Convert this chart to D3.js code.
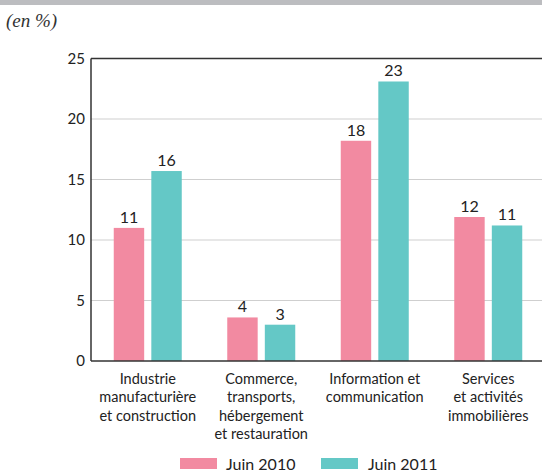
<!DOCTYPE html>
<html><head><meta charset="utf-8">
<script src="https://cdn.jsdelivr.net/npm/d3@7"></script>
<style>body{margin:0;background:#fff}svg{display:block}</style>
</head><body>
<script>
const categories = [["Industrie","manufacturière","et construction"],["Commerce,","transports,","hébergement","et restauration"],["Information et","communication"],["Services","et activités","immobilières"]];
const seriesNames = ["Juin 2010","Juin 2011"];
const values2010 = [11.0, 3.6, 18.2, 11.9];
const values2011 = [15.7, 3.0, 23.1, 11.2];
const labels2010 = ["11","4","18","12"];
const labels2011 = ["16","3","23","11"];
const yTicks = [0,5,10,15,20,25];
const colors = ["#f28aa1","#64c8c6"];

(function(){
const W=542,H=472;
const svg=d3.select("body").append("svg").attr("width",W).attr("height",H);
const font="Lato, 'Open Sans', sans-serif";
svg.append("rect").attr("x",0).attr("y",0).attr("width",W).attr("height",5).attr("fill","#bcbdc0");
svg.append("text").attr("x",6).attr("y",27).attr("font-family","'Liberation Serif', serif").attr("font-style","italic").attr("font-size",19).attr("fill","#333").text("(en %)");

const pL=91,pR=545,pT=58.5,pB=361;
const x=d3.scaleBand().domain(d3.range(categories.length)).range([pL,pR]).paddingInner(0).paddingOuter(0);
const y=d3.scaleLinear().domain([0,25]).range([pB,pT]);
const xs=d3.scaleBand().domain([0,1]).range([0,68]).paddingInner(0.19);
const off=(x.bandwidth()-68)/2;

svg.append("g").selectAll("line").data(yTicks.filter(t=>t>0&&t<25)).join("line")
 .attr("x1",pL).attr("x2",W).attr("y1",d=>y(d)).attr("y2",d=>y(d)).attr("stroke","#cfcfcf").attr("stroke-width",1.2);

const data=categories.map((c,i)=>[values2010[i],values2011[i]]);
const labs=categories.map((c,i)=>[labels2010[i],labels2011[i]]);
const g=svg.append("g");
data.forEach((vals,i)=>{
  vals.forEach((v,s)=>{
    const bx=x(i)+off+xs(s);
    g.append("rect").attr("x",bx).attr("y",y(v)).attr("width",xs.bandwidth()).attr("height",y(0)-y(v)).attr("fill",colors[s]);
    g.append("text").attr("x",bx+xs.bandwidth()/2).attr("y",y(v)-5).attr("text-anchor","middle")
     .attr("font-family",font).attr("font-size",16).attr("fill","#222").text(labs[i][s]);
  });
});

const ya=d3.axisLeft(y).tickValues(yTicks).tickSize(0).tickPadding(6);
const ag=svg.append("g").attr("transform",`translate(${pL},0)`).call(ya);
ag.select(".domain").remove();
ag.selectAll("text").attr("font-family",font).attr("font-size",15).attr("fill","#222");
svg.append("line").attr("x1",pL).attr("x2",pL).attr("y1",pT).attr("y2",pB).attr("stroke","#333").attr("stroke-width",1.5);
svg.append("line").attr("x1",pL).attr("x2",W).attr("y1",pT).attr("y2",pT).attr("stroke","#333").attr("stroke-width",1.5);
svg.append("line").attr("x1",pL).attr("x2",W).attr("y1",pB).attr("y2",pB).attr("stroke","#333").attr("stroke-width",1.5);

categories.forEach((lines,i)=>{
  const t=svg.append("text").attr("text-anchor","middle").attr("font-family",font).attr("font-size",14.5).attr("fill","#222");
  lines.forEach((l,j)=>t.append("tspan").attr("x",x(i)+x.bandwidth()/2).attr("y",384+j*18.3).text(l));
});

const lg=[{x:180,tx:226},{x:321,tx:368}];
seriesNames.forEach((n,s)=>{
  svg.append("rect").attr("x",lg[s].x).attr("y",458).attr("width",37).attr("height",11).attr("fill",colors[s]);
  svg.append("text").attr("x",lg[s].tx).attr("y",463.5).attr("dominant-baseline","central").attr("font-family",font).attr("font-size",16).attr("fill","#222").text(n);
});
})();
</script>
</body></html>
